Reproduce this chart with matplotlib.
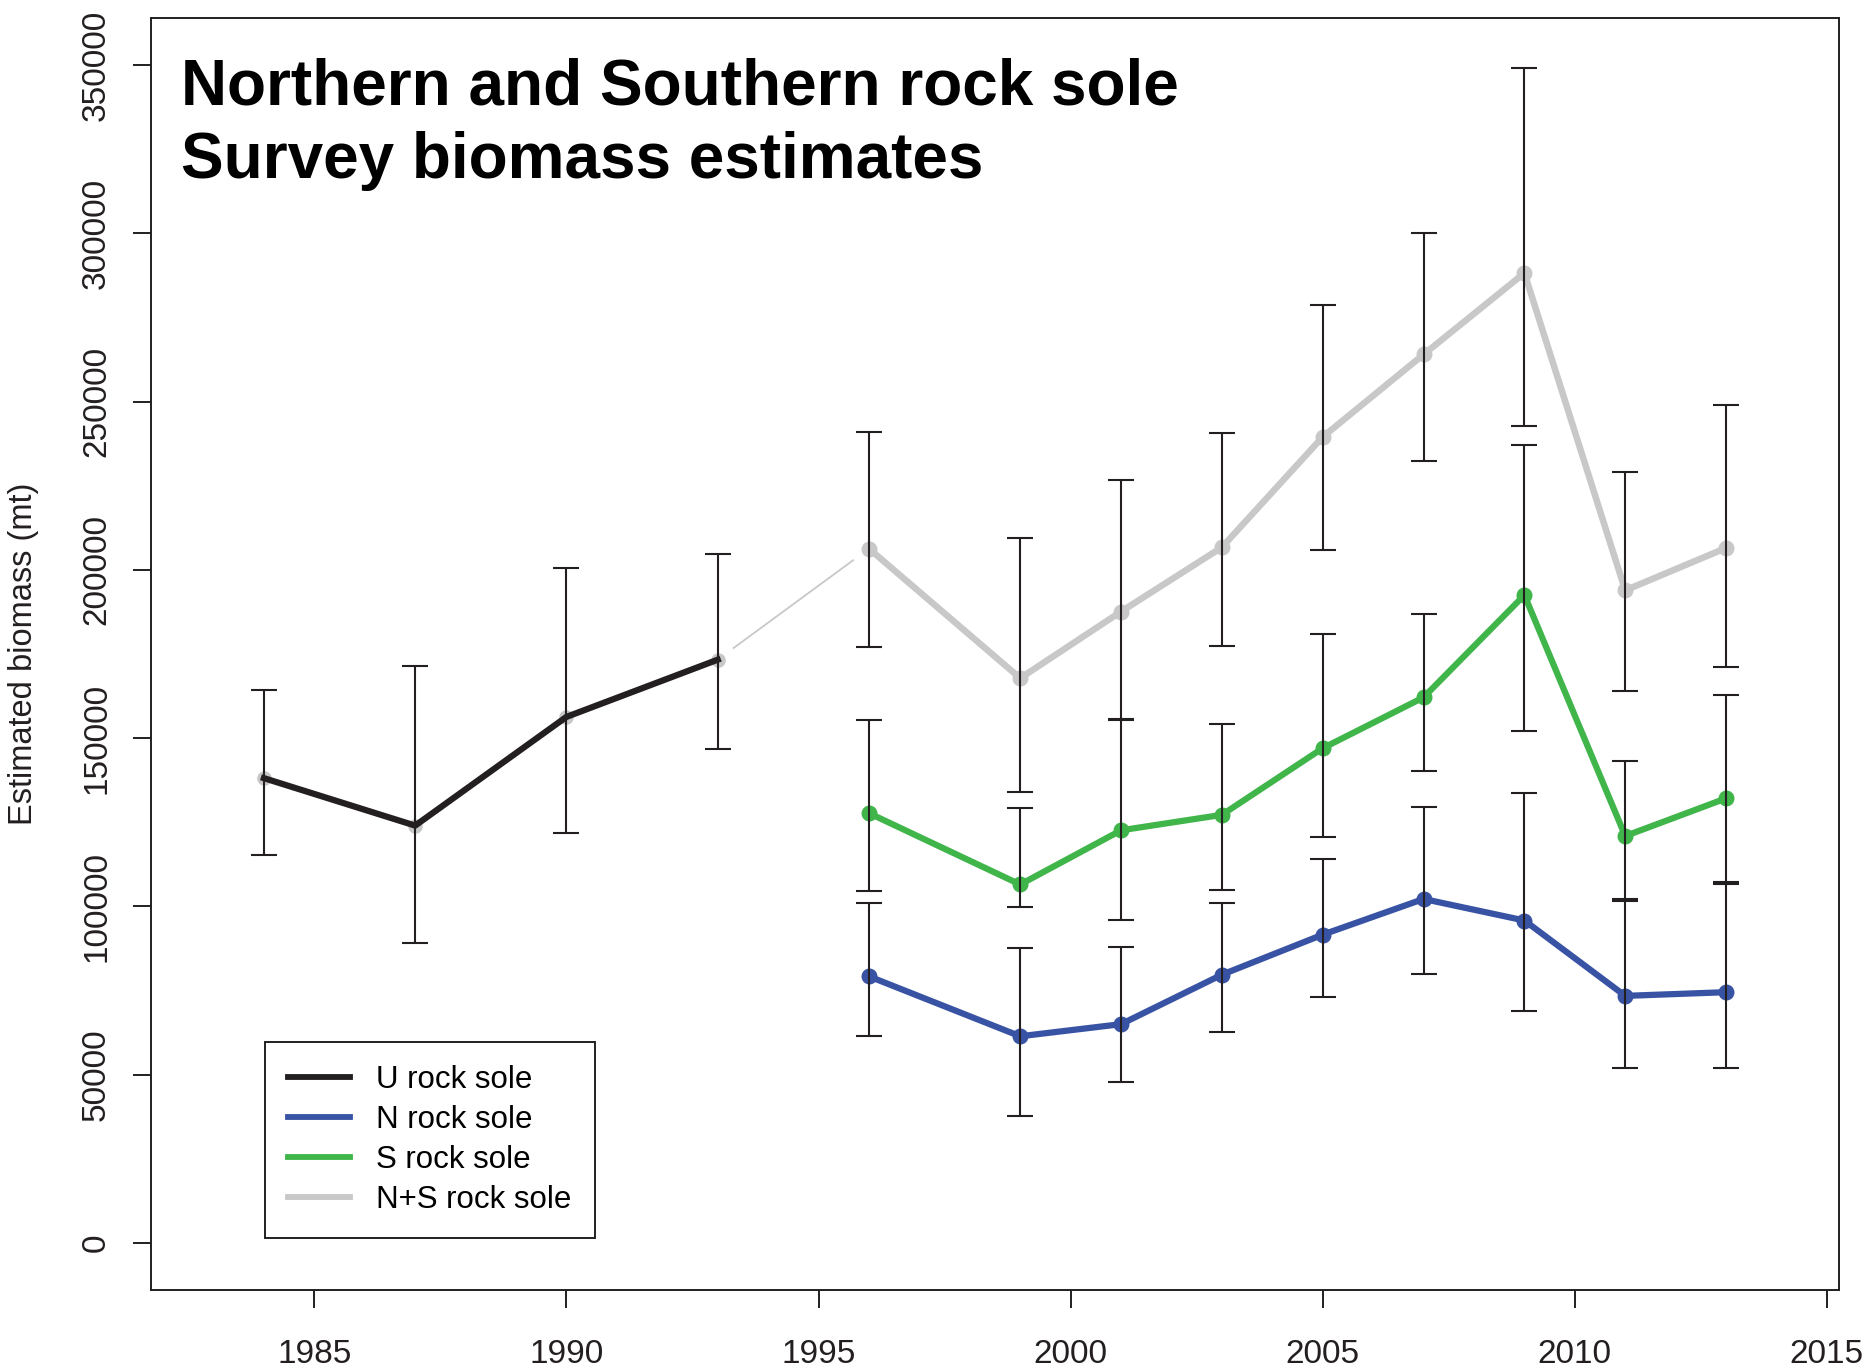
import numpy as np
import matplotlib.pyplot as plt
from matplotlib.lines import Line2D

plt.rcParams['font.family'] = ['Liberation Sans', 'DejaVu Sans']

# Unassigned rock sole (before the N/S split)
years_u = [1984, 1987, 1990, 1993]
u_est = [138100, 124000, 156300, 173300]
u_lo = [115400, 89200, 121800, 146700]
u_hi = [164400, 171500, 200500, 204600]

# Northern / Southern / combined
years_ns = [1996, 1999, 2001, 2003, 2005, 2007, 2009, 2011, 2013]
n_est = [79200, 61400, 65000, 79700, 91600, 102200, 95800, 73400, 74500]
n_lo = [61400, 37700, 47900, 62600, 73200, 80000, 69000, 52000, 52000]
n_hi = [101000, 87500, 88000, 101100, 114000, 129400, 133800, 101600, 106600]
s_est = [127700, 106500, 122600, 127200, 147000, 162100, 192500, 120900, 132100]
s_lo = [104700, 99800, 96000, 104800, 120700, 140200, 152100, 102300, 107200]
s_hi = [155300, 129300, 155300, 154200, 181000, 186900, 237200, 143100, 162900]
ns_est = [206300, 167800, 187600, 206700, 239500, 264000, 288200, 193900, 206500]
ns_lo = [177200, 134000, 155700, 177500, 206000, 232400, 242600, 163900, 171100]
ns_hi = [241100, 209400, 226600, 240700, 278700, 300100, 349000, 229100, 249100]

legend_labels = ["U rock sole", "N rock sole", "S rock sole", "N+S rock sole"]

BLACK = "#231f20"
BLUE = "#3953a4"
GREEN = "#3fb54a"
GREY = "#c8c8c8"

fig = plt.figure(figsize=(18.64, 13.69), dpi=100)
ax = fig.add_axes([0.0810, 0.0577, 0.9056, 0.9292])

# grey markers under the U series and thin connector 1993 -> 1996
ax.plot(years_u, u_est, 'o', color=GREY, ms=9.5, zorder=2)
x0, y0 = years_u[-1], u_est[-1]
x1, y1 = years_ns[0], ns_est[0]
g = 0.105
ax.plot([x0 + g*(x1-x0), x1 - g*(x1-x0)], [y0 + g*(y1-y0), y1 - g*(y1-y0)],
        color=GREY, lw=1.3, zorder=2)

ax.plot(years_u, u_est, '-', color=BLACK, lw=4.5, zorder=3)
ax.plot(years_ns, ns_est, '-o', color=GREY, lw=4.7, ms=10.5, zorder=3)
ax.plot(years_ns, s_est, '-o', color=GREEN, lw=4.5, ms=10.5, zorder=3)
ax.plot(years_ns, n_est, '-o', color=BLUE, lw=4.5, ms=10.5, zorder=3)

eb = dict(fmt='none', ecolor=BLACK, elinewidth=1.5, capsize=9.5, capthick=1.5, zorder=4)
ax.errorbar(years_u, u_est, yerr=[np.subtract(u_est, u_lo), np.subtract(u_hi, u_est)], **eb)
ax.errorbar(years_ns, ns_est, yerr=[np.subtract(ns_est, ns_lo), np.subtract(ns_hi, ns_est)], **eb)
ax.errorbar(years_ns, s_est, yerr=[np.subtract(s_est, s_lo), np.subtract(s_hi, s_est)], **eb)
ax.errorbar(years_ns, n_est, yerr=[np.subtract(n_est, n_lo), np.subtract(n_hi, n_est)], **eb)

ax.set_xlim(1981.76, 2015.24)
ax.set_ylim(-14000, 364000)
ax.set_xticks(np.arange(1985, 2016, 5))
ax.set_yticks(np.arange(0, 350001, 50000))
ax.set_yticklabels([str(v) for v in range(0, 350001, 50000)], rotation=90, va='center')
ax.tick_params(axis='both', labelsize=24, length=13, width=1.4, color=BLACK,
               labelcolor=BLACK, direction='out')
ax.tick_params(axis='x', pad=22)
ax.tick_params(axis='y', pad=15)
for s in ax.spines.values():
    s.set_linewidth(1.4)
    s.set_color(BLACK)

fig.text(0.0125, 0.5223, "Estimated biomass (mt)", rotation=90, ha='center', va='center',
         fontsize=23.5, color=BLACK)

fig.text(0.0969, 0.9236, "Northern and Southern rock sole", fontsize=46,
         fontweight='bold', va='baseline', ha='left')
fig.text(0.0969, 0.8697, "Survey biomass estimates", fontsize=46,
         fontweight='bold', va='baseline', ha='left')

handles = [Line2D([], [], color=c, lw=4.2) for c in [BLACK, BLUE, GREEN, GREY]]
leg = ax.legend(handles, legend_labels, loc='upper left', bbox_to_anchor=(0.1422, 0.2389),
                bbox_transform=fig.transFigure, borderaxespad=0, fontsize=22.5,
                frameon=True, fancybox=False, edgecolor=BLACK, framealpha=1,
                handlelength=1.98, handletextpad=0.84, labelspacing=0.32, borderpad=0.74)
leg.get_frame().set_linewidth(1.4)

fig.savefig("out.png", dpi=100)
